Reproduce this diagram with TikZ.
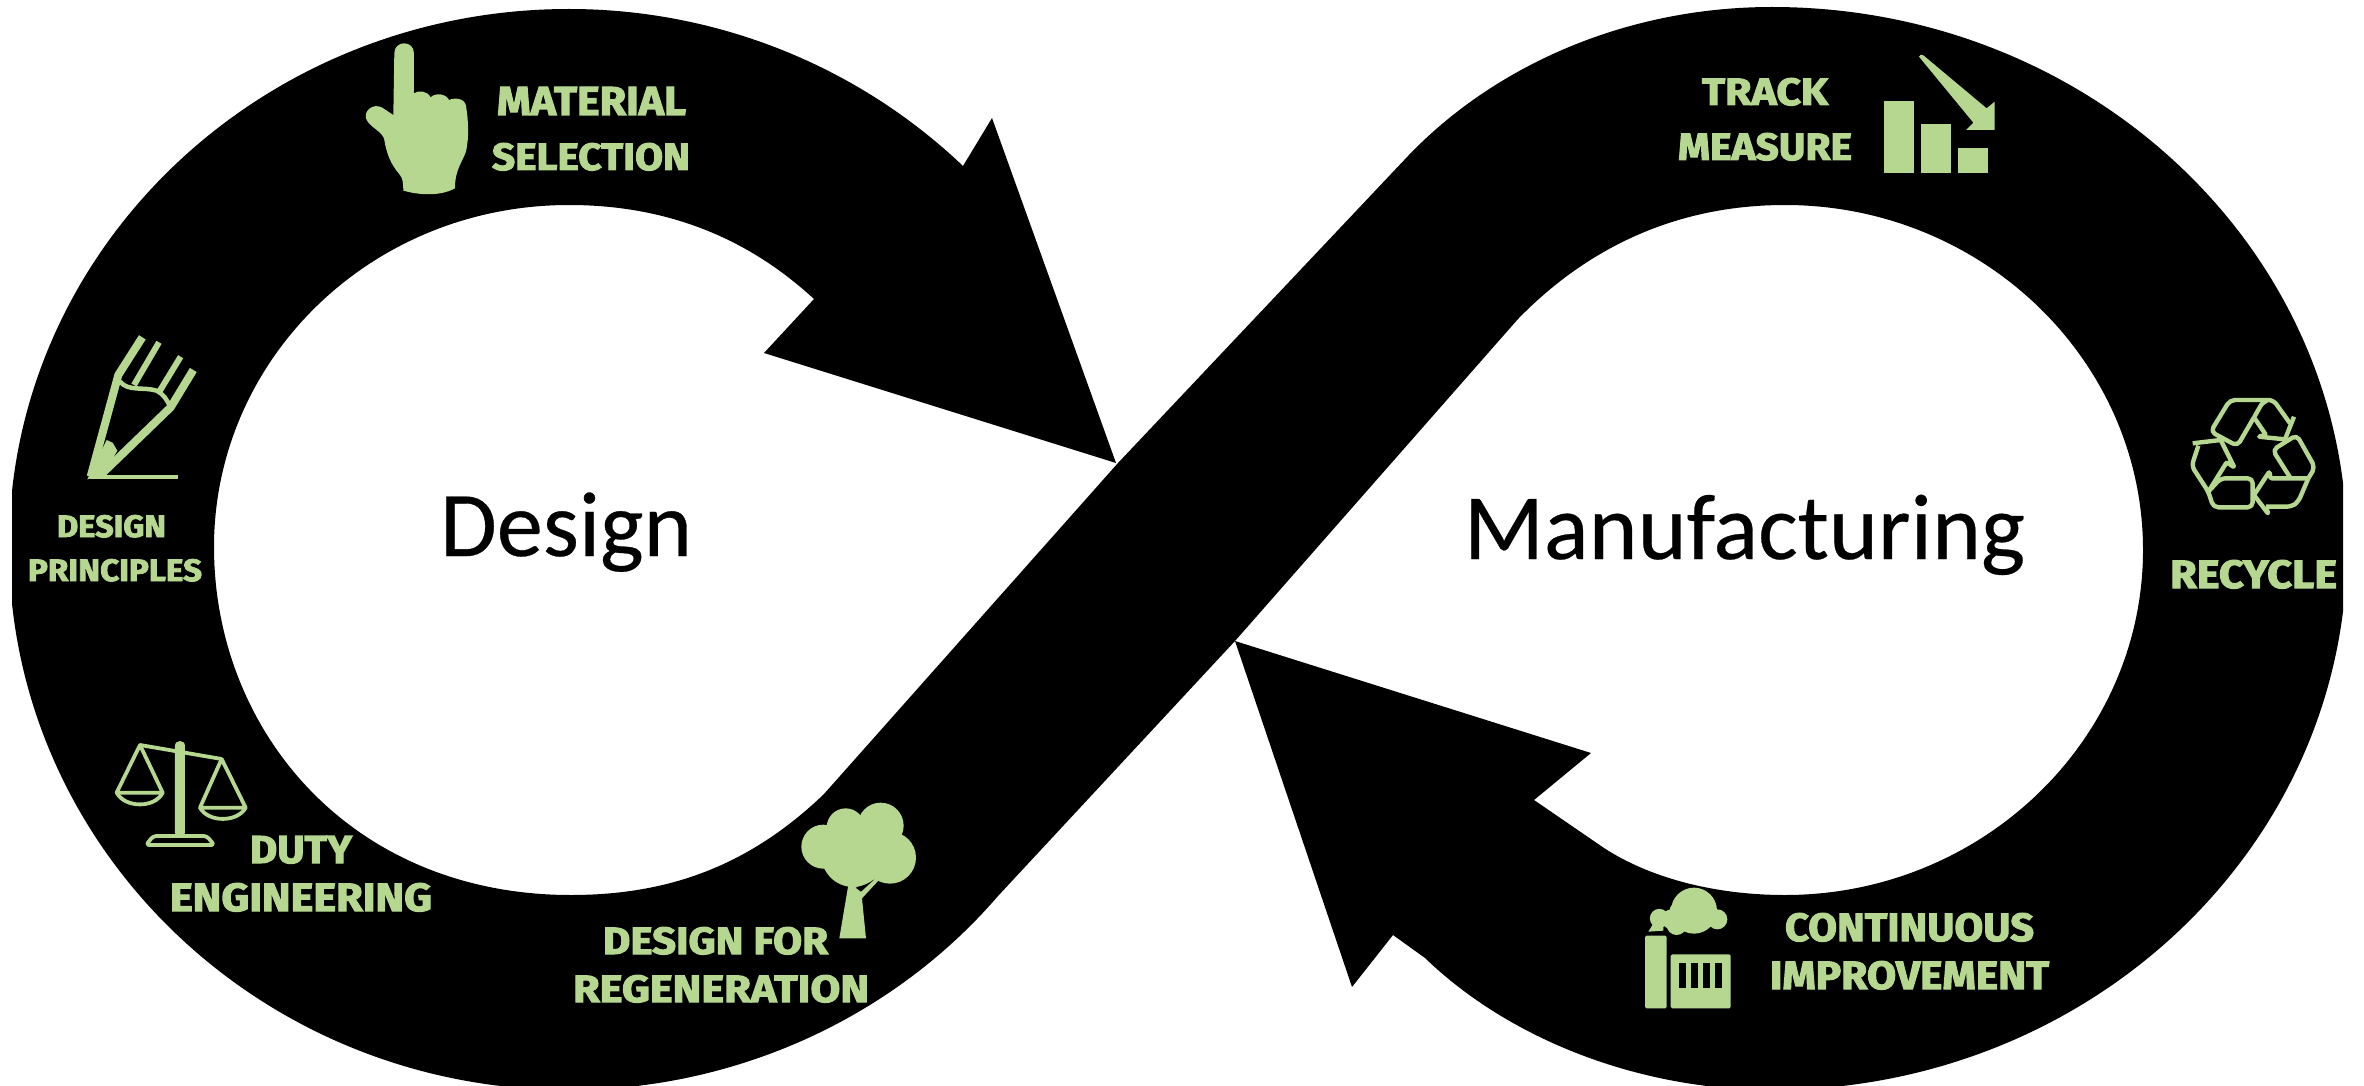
\documentclass[tikz,border=0pt]{standalone}
\usepackage{fontspec}
\usepackage{graphicx}
\setmainfont{Carlito}
\newfontfamily\bigf[FakeBold=0.3]{Carlito}
\newfontfamily\lab[BoldFeatures={FakeBold=2.6}]{Fira Sans}
\definecolor{leaf}{HTML}{B5D78F}
\newcommand{\fit}[3]{\resizebox{#1pt}{#2pt}{\lab\bfseries #3}}
\tikzset{
  lbl/.style={anchor=base west,inner sep=0pt,outer sep=0pt,text=leaf},
  big/.style={anchor=base west,inner sep=0pt,outer sep=0pt,text=black},
  zm/.style={x=.3333pt,y=-.3333pt},
  ln/.style={draw=leaf,fill=none,line join=round},
  sld/.style={fill=leaf,draw=none}
}
\begin{document}
\begin{tikzpicture}[x=1pt,y=-1pt]
\useasboundingbox (0,0) rectangle (2364,1086);
\fill[white] (0,0) rectangle (2364,1086);
\begin{scope}
\clip (12,0) rectangle (2343,1086);
\fill[black] (963,166)
  .. controls (858,66) and (717,9) .. (569,9)
  .. controls (260,9) and (9,250) .. (9,547)
  .. controls (9,847) and (260,1090) .. (569,1090)
  .. controls (734,1090) and (892,1019) .. (998,896)
  -- (1235,641) -- (1518,319)
  .. controls (1590,245) and (1680,205) .. (1785,205)
  .. controls (1982,205) and (2143,360) .. (2143,550)
  .. controls (2143,740) and (1982,895) .. (1785,895)
  .. controls (1715,895) and (1650,878) .. (1604,848)
  -- (1534,800) -- (1591,753) -- (1235,641) -- (1352,987) -- (1393,935) -- (1425,958)
  .. controls (1510,1040) and (1640,1090) .. (1772,1090)
  .. controls (2090,1090) and (2347,847) .. (2347,547)
  .. controls (2347,249) and (2090,7) .. (1772,7)
  .. controls (1620,7) and (1490,70) .. (1408,156)
  -- (1118,463) -- (824,794)
  .. controls (750,865) and (670,895) .. (571,895)
  .. controls (350,895) and (214,730) .. (214,547)
  .. controls (214,360) and (370,205) .. (569,205)
  .. controls (670,205) and (750,240) .. (814,299)
  -- (764,353) -- (1116,463) -- (992,118) -- cycle;
\end{scope}
% big labels
\node[big] (design) at (440,556) {\resizebox{252pt}{!}{\bigf Design}};
\node[big] (manuf) at (1464,559) {\resizebox{561pt}{!}{\bigf Manufacturing}};
% green labels
\node[lbl] (t1) at (497,115) {\fit{189}{28}{MATERIAL}};
\node[lbl] (t2) at (492,170) {\fit{198}{27}{SELECTION}};
\node[lbl] (t3) at (57,537) {\fit{109}{22}{DESIGN}};
\node[lbl] (t4) at (28,581) {\fit{174}{22}{PRINCIPLES}};
\node[lbl] (t5) at (250,863) {\fit{102}{27}{DUTY}};
\node[lbl] (t6) at (170,911) {\fit{262}{28}{ENGINEERING}};
\node[lbl] (t7) at (603,954) {\fit{225}{27}{DESIGN FOR}};
\node[lbl] (t8) at (573,1002) {\fit{296}{27}{REGENERATION}};
\node[lbl] (t9) at (1702,105) {\fit{126}{27}{TRACK}};
\node[lbl] (t10) at (1678,160) {\fit{174}{27}{MEASURE}};
\node[lbl] (t11) at (2170,588) {\fit{167}{28}{RECYCLE}};
\node[lbl] (t12) at (1785,941) {\fit{249}{28}{CONTINUOUS}};
\node[lbl] (t13) at (1770,989) {\fit{279}{28}{IMPROVEMENT}};
% hand
\begin{scope}[shift={(340,20)},zm]
\fill[leaf] (163,100) .. controls (163,60) and (222,60) .. (222,100) -- (222,220)
 .. controls (235,210) and (262,212) .. (272,232)
 .. controls (285,218) and (318,220) .. (327,240)
 .. controls (345,232) and (375,235) .. (378,258)
 .. controls (385,300) and (388,350) .. (378,395)
 .. controls (365,430) and (345,450) .. (345,505)
 .. controls (300,530) and (235,525) .. (190,512)
 .. controls (190,490) and (188,475) .. (180,465)
 .. controls (150,430) and (140,400) .. (133,360)
 .. controls (130,335) and (85,320) .. (78,295)
 .. controls (72,270) and (100,250) .. (125,262)
 -- (160,285) -- cycle;
\end{scope}
% pencil
\begin{scope}[shift={(60,320)},zm]
\draw[ln,line width=8pt] (92,470) -- (175,165) -- (247,52);
\draw[ln,line width=6pt] (297,67) -- (222,195);
\draw[ln,line width=6pt] (362,110) -- (298,215);
\draw[ln,line width=8pt] (400,150) -- (332,262) -- (125,462);
\draw[ln,line width=4.5pt] (180,185) .. controls (205,215) and (250,200) .. (290,212) .. controls (310,222) and (322,240) .. (330,260);
\draw[ln,line width=3.5pt] (90,471) -- (355,471);
\fill[leaf] (82,478) -- (140,360) -- (158,368) -- (172,392) -- (130,465) -- cycle;
\end{scope}
% track chart
\begin{scope}[shift={(1870,30)},zm]
\fill[leaf] (43,212) rectangle (133,428);
\fill[leaf] (153,283) rectangle (243,428);
\fill[leaf] (264,355) rectangle (354,428);
\fill[leaf] (147,80) .. controls (148,73) and (155,73) .. (160,76) -- (350,235) -- (374,215) -- (374,300) -- (288,300) -- (310,278) -- cycle;
\end{scope}
% recycle
\begin{scope}[shift={(2180,380)},zm,line width=4.4pt]
\draw[ln,rounded corners=5pt] (222,112) -- (172,198) -- (92,155) -- (150,60) -- (280,60) -- (330,130);
\draw[ln,rounded corners=1pt] (342,110) -- (315,178) -- (235,170) -- (258,165) -- (222,112) -- (245,72) -- (262,60);
\draw[ln,rounded corners=5pt] (385,295) -- (405,262) -- (350,165) -- (278,210) -- (330,292);
\draw[ln,rounded corners=1pt] (385,295) -- (272,295) -- (268,275) -- (222,345) -- (265,402) -- (258,380);
\draw[ln,rounded corners=5pt] (258,380) -- (335,380) -- (355,365) -- (385,295);
\draw[ln,rounded corners=1pt] (38,190) -- (122,180) -- (163,262) -- (140,247) -- (85,335);
\draw[ln,rounded corners=5pt] (55,197) -- (35,258) -- (85,335) -- (100,382) -- (218,382) -- (218,295) -- (122,295) -- (85,335);
\end{scope}
% scales
\begin{scope}[shift={(100,730)},zm,line width=3.8pt]
\fill[leaf,rounded corners=4pt] (225,60) .. controls (225,28) and (255,28) .. (255,60) -- (255,320) -- (225,320) -- cycle;
\draw[ln] (120,45) -- (365,87);
\draw[ln] (50,188) -- (120,45) -- (188,188) -- cycle;
\draw[ln] (50,188) .. controls (75,235) and (165,235) .. (188,188);
\draw[ln] (300,233) -- (365,87) -- (437,233) -- cycle;
\draw[ln] (300,233) .. controls (325,278) and (412,278) .. (437,233);
\draw[ln,rounded corners=3pt] (138,345) -- (160,318) -- (320,318) -- (343,345) -- cycle;
\end{scope}
% tree
\begin{scope}[shift={(780,790)},zm]
\fill[leaf] (130,170) circle[radius=22pt];
\fill[leaf] (197,112) circle[radius=19pt];
\fill[leaf] (302,107) circle[radius=23pt];
\fill[leaf] (330,203) circle[radius=26pt];
\fill[leaf] (220,195) circle[radius=32pt];
\fill[leaf] (178,445) -- (258,445) -- (246,325) -- (297,270) -- (280,262) -- (240,300) -- (228,285) -- (205,285) -- cycle;
\fill[black] (227,293) -- (243,305) -- (283,268) .. controls (265,282) and (245,288) .. (227,293) -- cycle;
\end{scope}
% factory
\begin{scope}[shift={(1630,880)},zm]
\fill[leaf,rounded corners=1.5pt] (45,167) rectangle (110,385);
\fill[leaf,rounded corners=1.5pt] (122,223) rectangle (302,385);
\foreach \wx in {147,183,220,256} {\fill[black] (\wx,250) rectangle ++(21,75);}
\fill[leaf] (192,92) circle[radius=23pt];
\fill[leaf] (148,95) circle[radius=10pt];
\fill[leaf] (88,115) circle[radius=9.5pt];
\fill[leaf] (125,118) circle[radius=10pt];
\fill[leaf] (140,135) circle[radius=10pt];
\fill[leaf] (262,118) circle[radius=10pt];
\fill[leaf] (215,120) circle[radius=10pt];
\fill[leaf] (55,155) -- (70,130) -- (100,125) -- (100,152) -- cycle;
\end{scope}
\end{tikzpicture}
\end{document}
